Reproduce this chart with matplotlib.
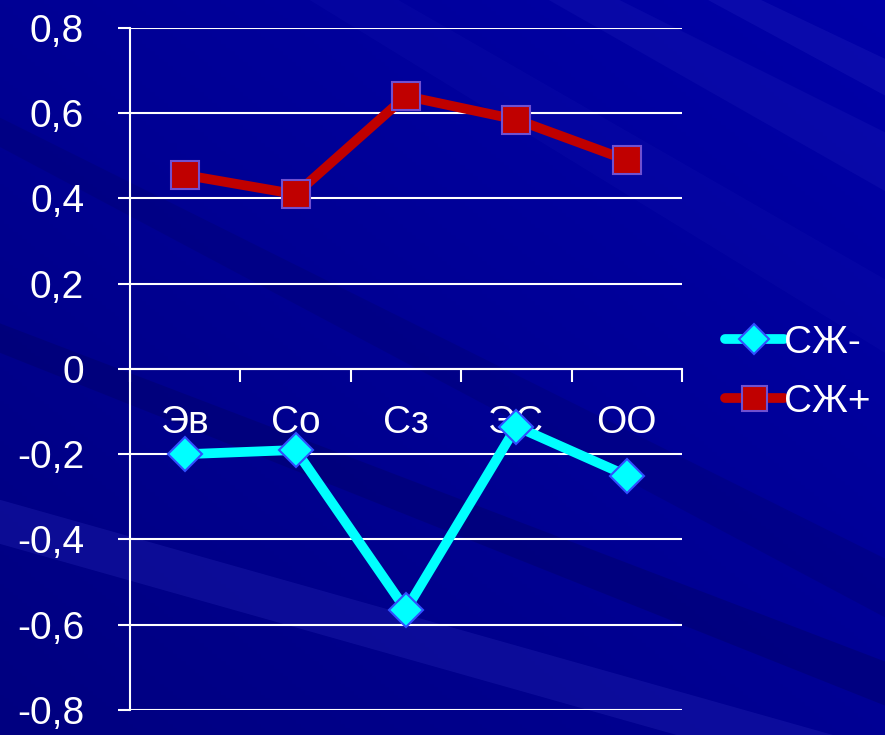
import matplotlib
matplotlib.use('Agg')
from matplotlib import pyplot as plt
from matplotlib.patches import Polygon
import numpy as np

plt.rcParams['font.family'] = ['Liberation Sans', 'DejaVu Sans']

categories = ['Эв', 'Со', 'Сз', 'ЭС', 'ОО']
sj_minus = [-0.20, -0.19, -0.565, -0.135, -0.25]
sj_plus = [0.455, 0.41, 0.64, 0.585, 0.49]
y_ticks = [-0.8, -0.6, -0.4, -0.2, 0, 0.2, 0.4, 0.6, 0.8]
y_labels = ['-0,8', '-0,6', '-0,4', '-0,2', '0', '0,2', '0,4', '0,6', '0,8']

fig = plt.figure(figsize=(8.85, 7.35), dpi=100)
fig.patch.set_facecolor('#00008C')

# background: gradient plus some faint diagonal rays
bg = fig.add_axes([0, 0, 1, 1], zorder=-10)
bg.set_axis_off()
gx, gy = np.meshgrid(np.linspace(0, 1, 200), np.linspace(0, 1, 200))
grad = 0.35 * gx + 0.35 * (1 - gy)
bg.imshow(grad, cmap=matplotlib.colors.LinearSegmentedColormap.from_list(
    'bgc', ['#000080', '#0000A8']), extent=[0, 1, 0, 1], aspect='auto',
    origin='upper', vmin=0, vmax=0.7)
rays = [
    ([(0.0, 0.80), (0.0, 0.84), (1.0, 0.24), (1.0, 0.16)], '#000070', 0.35),
    ([(0.0, 0.52), (0.0, 0.56), (1.0, 0.10), (1.0, 0.04)], '#00006A', 0.45),
    ([(0.0, 0.26), (0.0, 0.32), (1.0, -0.02), (1.0, -0.08)], '#2A2AB8', 0.3),
    ([(0.35, 1.0), (0.45, 1.0), (1.0, 0.62), (1.0, 0.52)], '#1818B0', 0.2),
    ([(0.62, 1.0), (0.70, 1.0), (1.0, 0.82), (1.0, 0.74)], '#2020B8', 0.25),
    ([(0.80, 1.0), (0.86, 1.0), (1.0, 0.92), (1.0, 0.87)], '#2A2AC0', 0.25),
]
for pts, col, a in rays:
    bg.add_patch(Polygon(pts, closed=True, facecolor=col, edgecolor='none',
                         alpha=a))
bg.set_xlim(0, 1)
bg.set_ylim(0, 1)

ax = fig.add_axes([0.1469, 0.034, 0.6237, 0.928])
ax.set_facecolor('none')
x = np.arange(len(categories))

ax.plot(x, sj_minus, color='#00FFFF', linewidth=7, marker='D',
        markersize=17, markerfacecolor='#00FFFF', markeredgecolor='#3050FF',
        markeredgewidth=1.5, label='СЖ-', solid_capstyle='round', zorder=5)
ax.plot(x, sj_plus, color='#C00000', linewidth=7, marker='s',
        markersize=20, markerfacecolor='#C00000', markeredgecolor='#7050D0',
        markeredgewidth=1.5, label='СЖ+', solid_capstyle='round', zorder=5)

ax.set_xlim(-0.5, len(categories) - 0.5)
ax.set_ylim(-0.8, 0.8)
ax.set_yticks(y_ticks)
ax.set_yticklabels(y_labels)
ax.yaxis.grid(True, color='white', linewidth=1.5)
ax.set_axisbelow(True)

ax.spines['top'].set_visible(False)
ax.spines['right'].set_visible(False)
ax.spines['left'].set_color('white')
ax.spines['left'].set_linewidth(1.5)
ax.spines['bottom'].set_position(('data', 0))
ax.spines['bottom'].set_color('white')
ax.spines['bottom'].set_linewidth(1.5)

ax.set_xticks(x)
ax.set_xticklabels(categories)
ax.set_xticks(np.arange(-0.5, len(categories), 1.0), minor=True)
ax.tick_params(axis='x', which='major', length=0, pad=26, labelsize=28,
               labelcolor='white')
ax.tick_params(axis='x', which='minor', length=9, width=1.5, color='white',
               direction='out')
ax.tick_params(axis='y', length=9, width=1.5, color='white', labelsize=28,
               labelcolor='white', pad=24)

leg = ax.legend(loc='center left', bbox_to_anchor=(1.015, 0.495), frameon=False,
                fontsize=28, labelcolor='white', handlelength=1.5,
                handletextpad=0.0, labelspacing=0.6, markerscale=0.9)

fig.savefig('out.png', dpi=100, facecolor=fig.get_facecolor())
